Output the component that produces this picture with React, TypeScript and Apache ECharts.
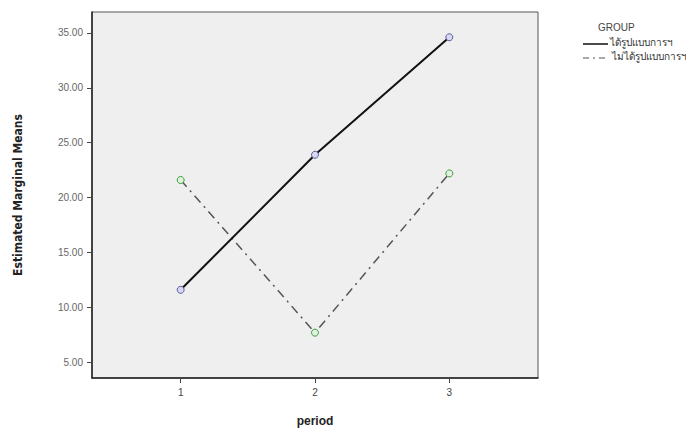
import React, { useEffect, useRef } from "react";
import * as echarts from "echarts";

const periods = [1, 2, 3];
const groupNames = ["ได้รูปแบบการฯ", "ไม่ได้รูปแบบการฯ"];
const group1Values = [11.6, 23.9, 34.6];
const group2Values = [21.6, 7.7, 22.2];
const yTicks = [5, 10, 15, 20, 25, 30, 35];

export default function App() {
  const ref = useRef<HTMLDivElement>(null);
  useEffect(() => {
    if (!ref.current) return;
    const chart = echarts.init(ref.current, null, { renderer: "svg" });
    const font = "'Liberation Sans', Arial, sans-serif";
    chart.setOption({
      animation: false,
      textStyle: { fontFamily: font },
      grid: {
        left: 92,
        top: 12,
        width: 446,
        height: 373,
        show: true,
        backgroundColor: "#efefef",
        borderColor: "#555",
        borderWidth: 1,
      },
      xAxis: {
        type: "value",
        min: 0.34,
        max: 3.66,
        name: "period",
        nameLocation: "middle",
        nameGap: 37,
        nameTextStyle: { fontWeight: "bold", fontSize: 12, color: "#222", fontFamily: font },
        axisLine: { show: true, lineStyle: { color: "#222", width: 1.5 } },
        axisTick: { show: true, customValues: periods, length: 5, inside: false, lineStyle: { color: "#444" } },
        axisLabel: { customValues: periods, color: "#444", fontSize: 10, margin: 9 },
        splitLine: { show: false },
      },
      yAxis: {
        type: "value",
        min: 3.57,
        max: 36.9,
        name: "Estimated Marginal Means",
        nameLocation: "middle",
        nameGap: 68,
        nameTextStyle: {
          fontWeight: "bold",
          fontSize: 12,
          color: "#222",
          fontFamily: "'Liberation Sans Narrow', 'DejaVu Sans Condensed', Arial, sans-serif",
        },
        axisLine: { show: true, lineStyle: { color: "#222", width: 1.5 } },
        axisTick: { show: true, customValues: yTicks, length: 5, lineStyle: { color: "#444" } },
        axisLabel: {
          customValues: yTicks,
          color: "#666",
          fontSize: 10,
          margin: 9,
          formatter: (v: number) => v.toFixed(2),
        },
        splitLine: { show: false },
      },
      series: [
        {
          name: groupNames[0],
          type: "line",
          data: periods.map((p, i) => [p, group1Values[i]]),
          symbol: "circle",
          symbolSize: 7,
          lineStyle: { color: "#111", width: 2, type: "solid" },
          itemStyle: { color: "#d8d8ee", borderColor: "#5a5aa8", borderWidth: 1 },
          z: 3,
        },
        {
          name: groupNames[1],
          type: "line",
          data: periods.map((p, i) => [p, group2Values[i]]),
          symbol: "circle",
          symbolSize: 7,
          lineStyle: { color: "#555", width: 1.5, type: [9, 5, 2, 5] },
          itemStyle: { color: "#e4f0e4", borderColor: "#3aa03a", borderWidth: 1 },
          z: 2,
        },
      ],
      graphic: [
        { type: "text", left: 598, top: 22, style: { text: "GROUP", fontSize: 10, fill: "#444", fontFamily: font } },
        { type: "line", shape: { x1: 583, y1: 44, x2: 608, y2: 44 }, style: { stroke: "#111", lineWidth: 1.5 } },
        { type: "text", left: 610, top: 37, style: { text: groupNames[0], fontSize: 10, fill: "#333", fontFamily: "'Noto Sans', sans-serif" } },
        { type: "line", shape: { x1: 583, y1: 58, x2: 608, y2: 58 }, style: { stroke: "#555", lineWidth: 1.2, lineDash: [6, 4, 2, 4] } },
        { type: "text", left: 612, top: 51, style: { text: groupNames[1], fontSize: 10, fill: "#333", fontFamily: "'Noto Sans', sans-serif" } },
      ],
    });
    return () => chart.dispose();
  }, []);
  return <div ref={ref} style={{ position: "fixed", left: 0, top: 0, width: 686, height: 432, background: "#fff" }} />;
}
